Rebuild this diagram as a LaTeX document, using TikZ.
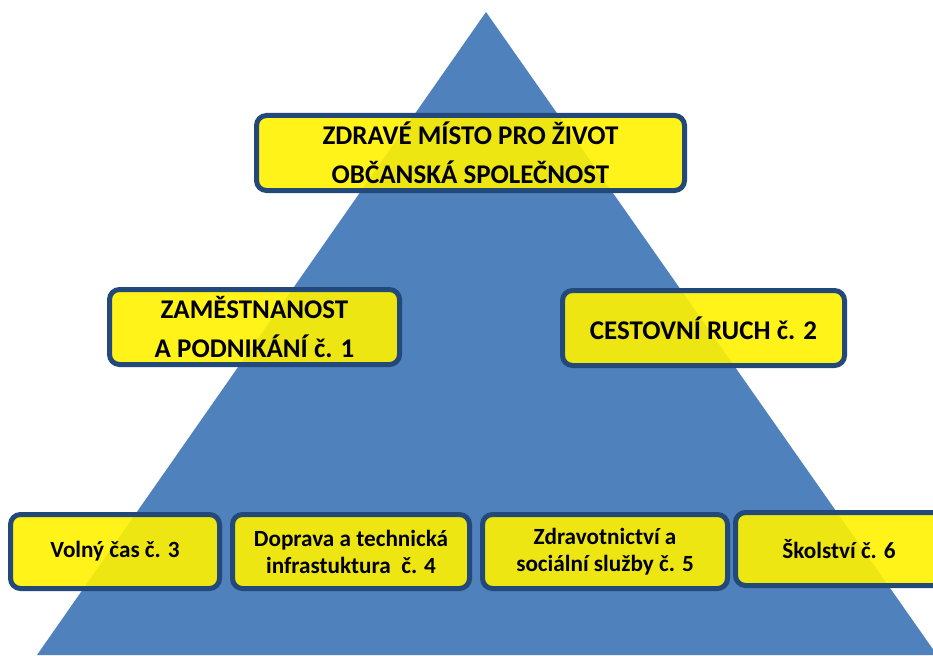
\documentclass[tikz,border=0pt]{standalone}
\usepackage{fontspec}
\setmainfont{Carlito}
\definecolor{triblue}{RGB}{79,129,189}
\definecolor{boxborder}{RGB}{35,72,122}
\begin{document}
\begin{tikzpicture}[x=1pt,y=-1pt,
  box/.style={draw=boxborder, line width=5pt, rounded corners=10pt, fill=yellow,
    fill opacity=0.9, text opacity=1, align=center, inner sep=0pt,
    font=\bfseries\fontsize{27}{39.5}\selectfont},
  smallbox/.style={box, font=\bfseries\fontsize{23.2}{27}\selectfont}]
\useasboundingbox (0,0) rectangle (933,655);
\clip (0,0) rectangle (933,655);
\coordinate (apex) at (486,12);
\coordinate (bl) at (37,655);
\coordinate (br) at (937,655);
\fill[triblue] (apex) -- (bl) -- (br) -- cycle;

\node[box, minimum width=428pt, minimum height=75pt] (top) at (470.5,153)
  {ZDRAVÉ MÍSTO PRO ŽIVOT\\OBČANSKÁ SPOLEČNOST};
\node[box, minimum width=290pt, minimum height=75pt] (zam) at (254.5,327)
  {ZAMĚSTNANOST\\A PODNIKÁNÍ č. 1};
\node[box, minimum width=282pt, minimum height=75pt] (ces) at (703.5,328)
  {CESTOVNÍ RUCH č. 2};

\node[smallbox, minimum width=209pt, minimum height=74pt] (vol) at (115,551.5)
  {Volný čas č. 3};
\node[smallbox, minimum width=237pt, minimum height=74pt] (dop) at (351,551.5)
  {Doprava a technická\\infrastuktura\ \ č. 4};
\node[smallbox, minimum width=245pt, minimum height=74pt] (zdr) at (605,551.5)
  {Zdravotnictví a\\sociální služby č. 5};
\node[smallbox, minimum width=207pt, minimum height=73pt] (sko) at (839,549)
  {Školství č. 6};
\end{tikzpicture}
\end{document}
